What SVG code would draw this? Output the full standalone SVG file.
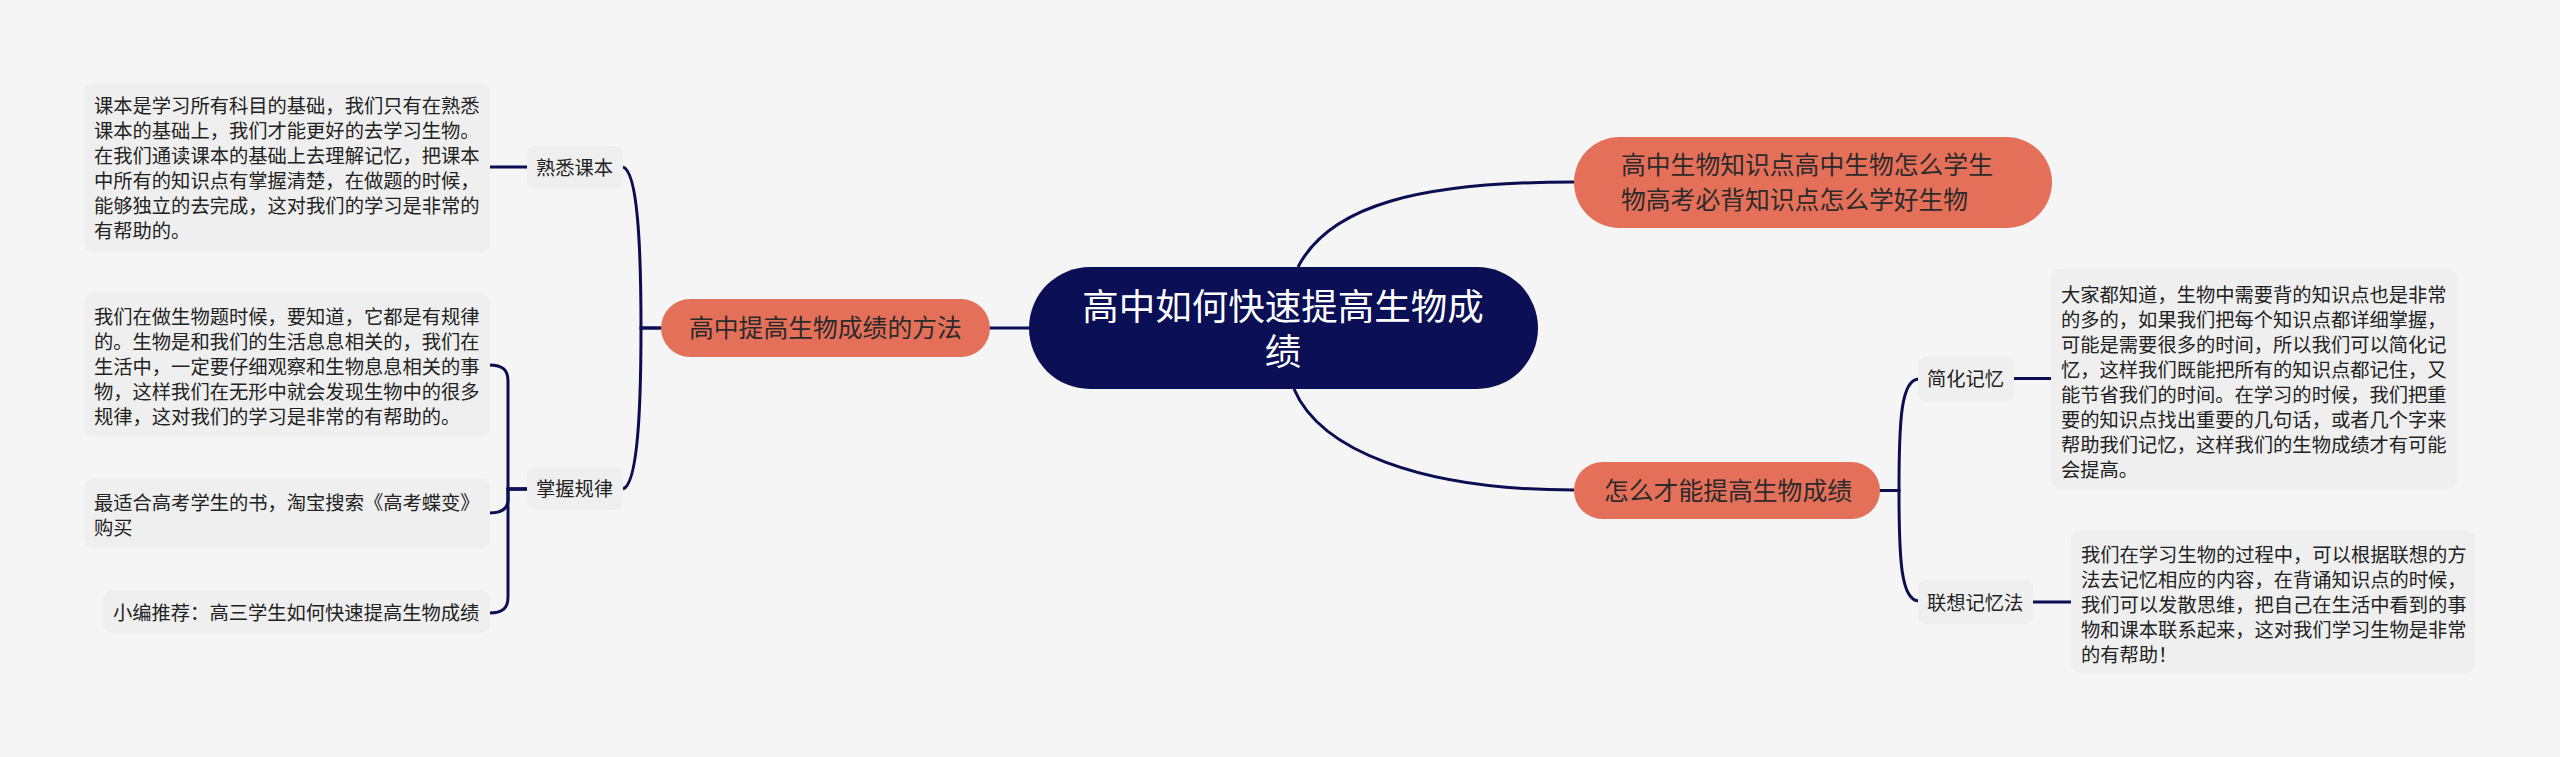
<svg xmlns="http://www.w3.org/2000/svg" width="2560" height="757" viewBox="0 0 2560 757">
<style>
text{font-family:"Noto Sans CJK SC","Noto Sans",sans-serif;}
.lf{fill:#efefef;}
.lt{font-size:19.3px;fill:#222;}
.or{fill:#e4705a;}
.ot{font-size:24.8px;fill:#2c2a2a;}
.ct{font-size:36.5px;fill:#fff;text-anchor:middle;}
.cn path,.cn line{stroke:#0b0f52;stroke-width:3;fill:none;}
</style>
<rect width="2560" height="757" fill="#f5f5f5"/>
<g class="cn" id="connectors">
<line x1="989" y1="328" x2="1030" y2="328"/>
<path d="M1298 267 C1330 205 1420 182 1574 182"/>
<path d="M1294 389 C1320 450 1420 490 1574 490"/>
<path d="M662 328 H641 C641 250 638 172 623 167"/>
<path d="M662 328 H641 C641 406 638 484 623 489"/>
<line x1="489" y1="167" x2="528" y2="167"/>
<path d="M528 489 H508 V381 C508 370 503 365 489 365"/>
<path d="M528 489 H508 V500 C508 508 503 513 489 513"/>
<path d="M528 489 H508 V597 C508 608 503 613 489 613"/>
<path d="M1879 490.5 H1899 C1899 420 1901 379 1919 379"/>
<path d="M1879 490.5 H1899 C1899 560 1901 601 1919 601"/>
<line x1="2013" y1="378.5" x2="2052" y2="378.5"/>
<line x1="2032" y1="602" x2="2072" y2="602"/>
</g>
<g id="central">
<rect x="1029" y="267" width="509" height="122" rx="61" fill="#0a0f56"/>
<text class="ct"><tspan x="1283" y="319.5">高中如何快速提高生物成</tspan><tspan x="1283" y="364.5">绩</tspan></text>
</g>
<g id="branch-left">
<rect class="or" x="661" y="299" width="329" height="58" rx="29"/>
<text class="ot" x="689" y="337.4">高中提高生物成绩的方法</text>
</g>
<g id="branch-top-right">
<rect class="or" x="1574" y="137" width="478" height="91" rx="45.5"/>
<text class="ot"><tspan x="1621" y="174.4">高中生物知识点高中生物怎么学生</tspan><tspan x="1621" y="209.4">物高考必背知识点怎么学好生物</tspan></text>
</g>
<g id="branch-bottom-right">
<rect class="or" x="1574" y="462" width="306" height="57" rx="28.5"/>
<text class="ot" x="1604" y="500">怎么才能提高生物成绩</text>
</g>
<g id="sub-shuxi">
<rect class="lf" x="527" y="146" width="96" height="43" rx="8"/>
<text class="lt" x="536" y="175">熟悉课本</text>
</g>
<g id="sub-zhangwo">
<rect class="lf" x="527" y="467" width="96" height="43" rx="8"/>
<text class="lt" x="536" y="496">掌握规律</text>
</g>
<g id="sub-jianhua">
<rect class="lf" x="1918" y="357" width="96" height="44" rx="8"/>
<text class="lt" x="1927" y="386">简化记忆</text>
</g>
<g id="sub-lianxiang">
<rect class="lf" x="1918" y="580" width="115" height="44" rx="8"/>
<text class="lt" x="1927" y="609.5">联想记忆法</text>
</g>
<g id="leaf-1">
<rect class="lf" x="84" y="83" width="406" height="169" rx="9"/>
<text class="lt"><tspan x="94" y="113.3">课本是学习所有科目的基础，我们只有在熟悉</tspan><tspan x="94" y="138.3">课本的基础上，我们才能更好的去学习生物。</tspan><tspan x="94" y="163.3">在我们通读课本的基础上去理解记忆，把课本</tspan><tspan x="94" y="188.3">中所有的知识点有掌握清楚，在做题的时候，</tspan><tspan x="94" y="213.3">能够独立的去完成，这对我们的学习是非常的</tspan><tspan x="94" y="238.3">有帮助的。</tspan></text>
</g>
<g id="leaf-2">
<rect class="lf" x="84" y="293" width="406" height="144" rx="9"/>
<text class="lt"><tspan x="94" y="323.5">我们在做生物题时候，要知道，它都是有规律</tspan><tspan x="94" y="348.5">的。生物是和我们的生活息息相关的，我们在</tspan><tspan x="94" y="373.5">生活中，一定要仔细观察和生物息息相关的事</tspan><tspan x="94" y="398.5">物，这样我们在无形中就会发现生物中的很多</tspan><tspan x="94" y="423.5">规律，这对我们的学习是非常的有帮助的。</tspan></text>
</g>
<g id="leaf-3">
<rect class="lf" x="84" y="479" width="406" height="69" rx="9"/>
<text class="lt"><tspan x="94" y="510">最适合高考学生的书，淘宝搜索《高考蝶变》</tspan><tspan x="94" y="535">购买</tspan></text>
</g>
<g id="leaf-4">
<rect class="lf" x="103" y="590" width="387" height="43" rx="9"/>
<text class="lt" x="113" y="620">小编推荐：高三学生如何快速提高生物成绩</text>
</g>
<g id="leaf-5">
<rect class="lf" x="2051" y="269" width="406" height="220" rx="9"/>
<text class="lt"><tspan x="2061" y="301.8">大家都知道，生物中需要背的知识点也是非常</tspan><tspan x="2061" y="326.8">的多的，如果我们把每个知识点都详细掌握，</tspan><tspan x="2061" y="351.8">可能是需要很多的时间，所以我们可以简化记</tspan><tspan x="2061" y="376.8">忆，这样我们既能把所有的知识点都记住，又</tspan><tspan x="2061" y="401.8">能节省我们的时间。在学习的时候，我们把重</tspan><tspan x="2061" y="426.8">要的知识点找出重要的几句话，或者几个字来</tspan><tspan x="2061" y="451.8">帮助我们记忆，这样我们的生物成绩才有可能</tspan><tspan x="2061" y="476.8">会提高。</tspan></text>
</g>
<g id="leaf-6">
<rect class="lf" x="2071" y="530" width="404" height="143" rx="9"/>
<text class="lt"><tspan x="2081" y="562">我们在学习生物的过程中，可以根据联想的方</tspan><tspan x="2081" y="587">法去记忆相应的内容，在背诵知识点的时候，</tspan><tspan x="2081" y="612">我们可以发散思维，把自己在生活中看到的事</tspan><tspan x="2081" y="637">物和课本联系起来，这对我们学习生物是非常</tspan><tspan x="2081" y="662">的有帮助！</tspan></text>
</g>
</svg>
